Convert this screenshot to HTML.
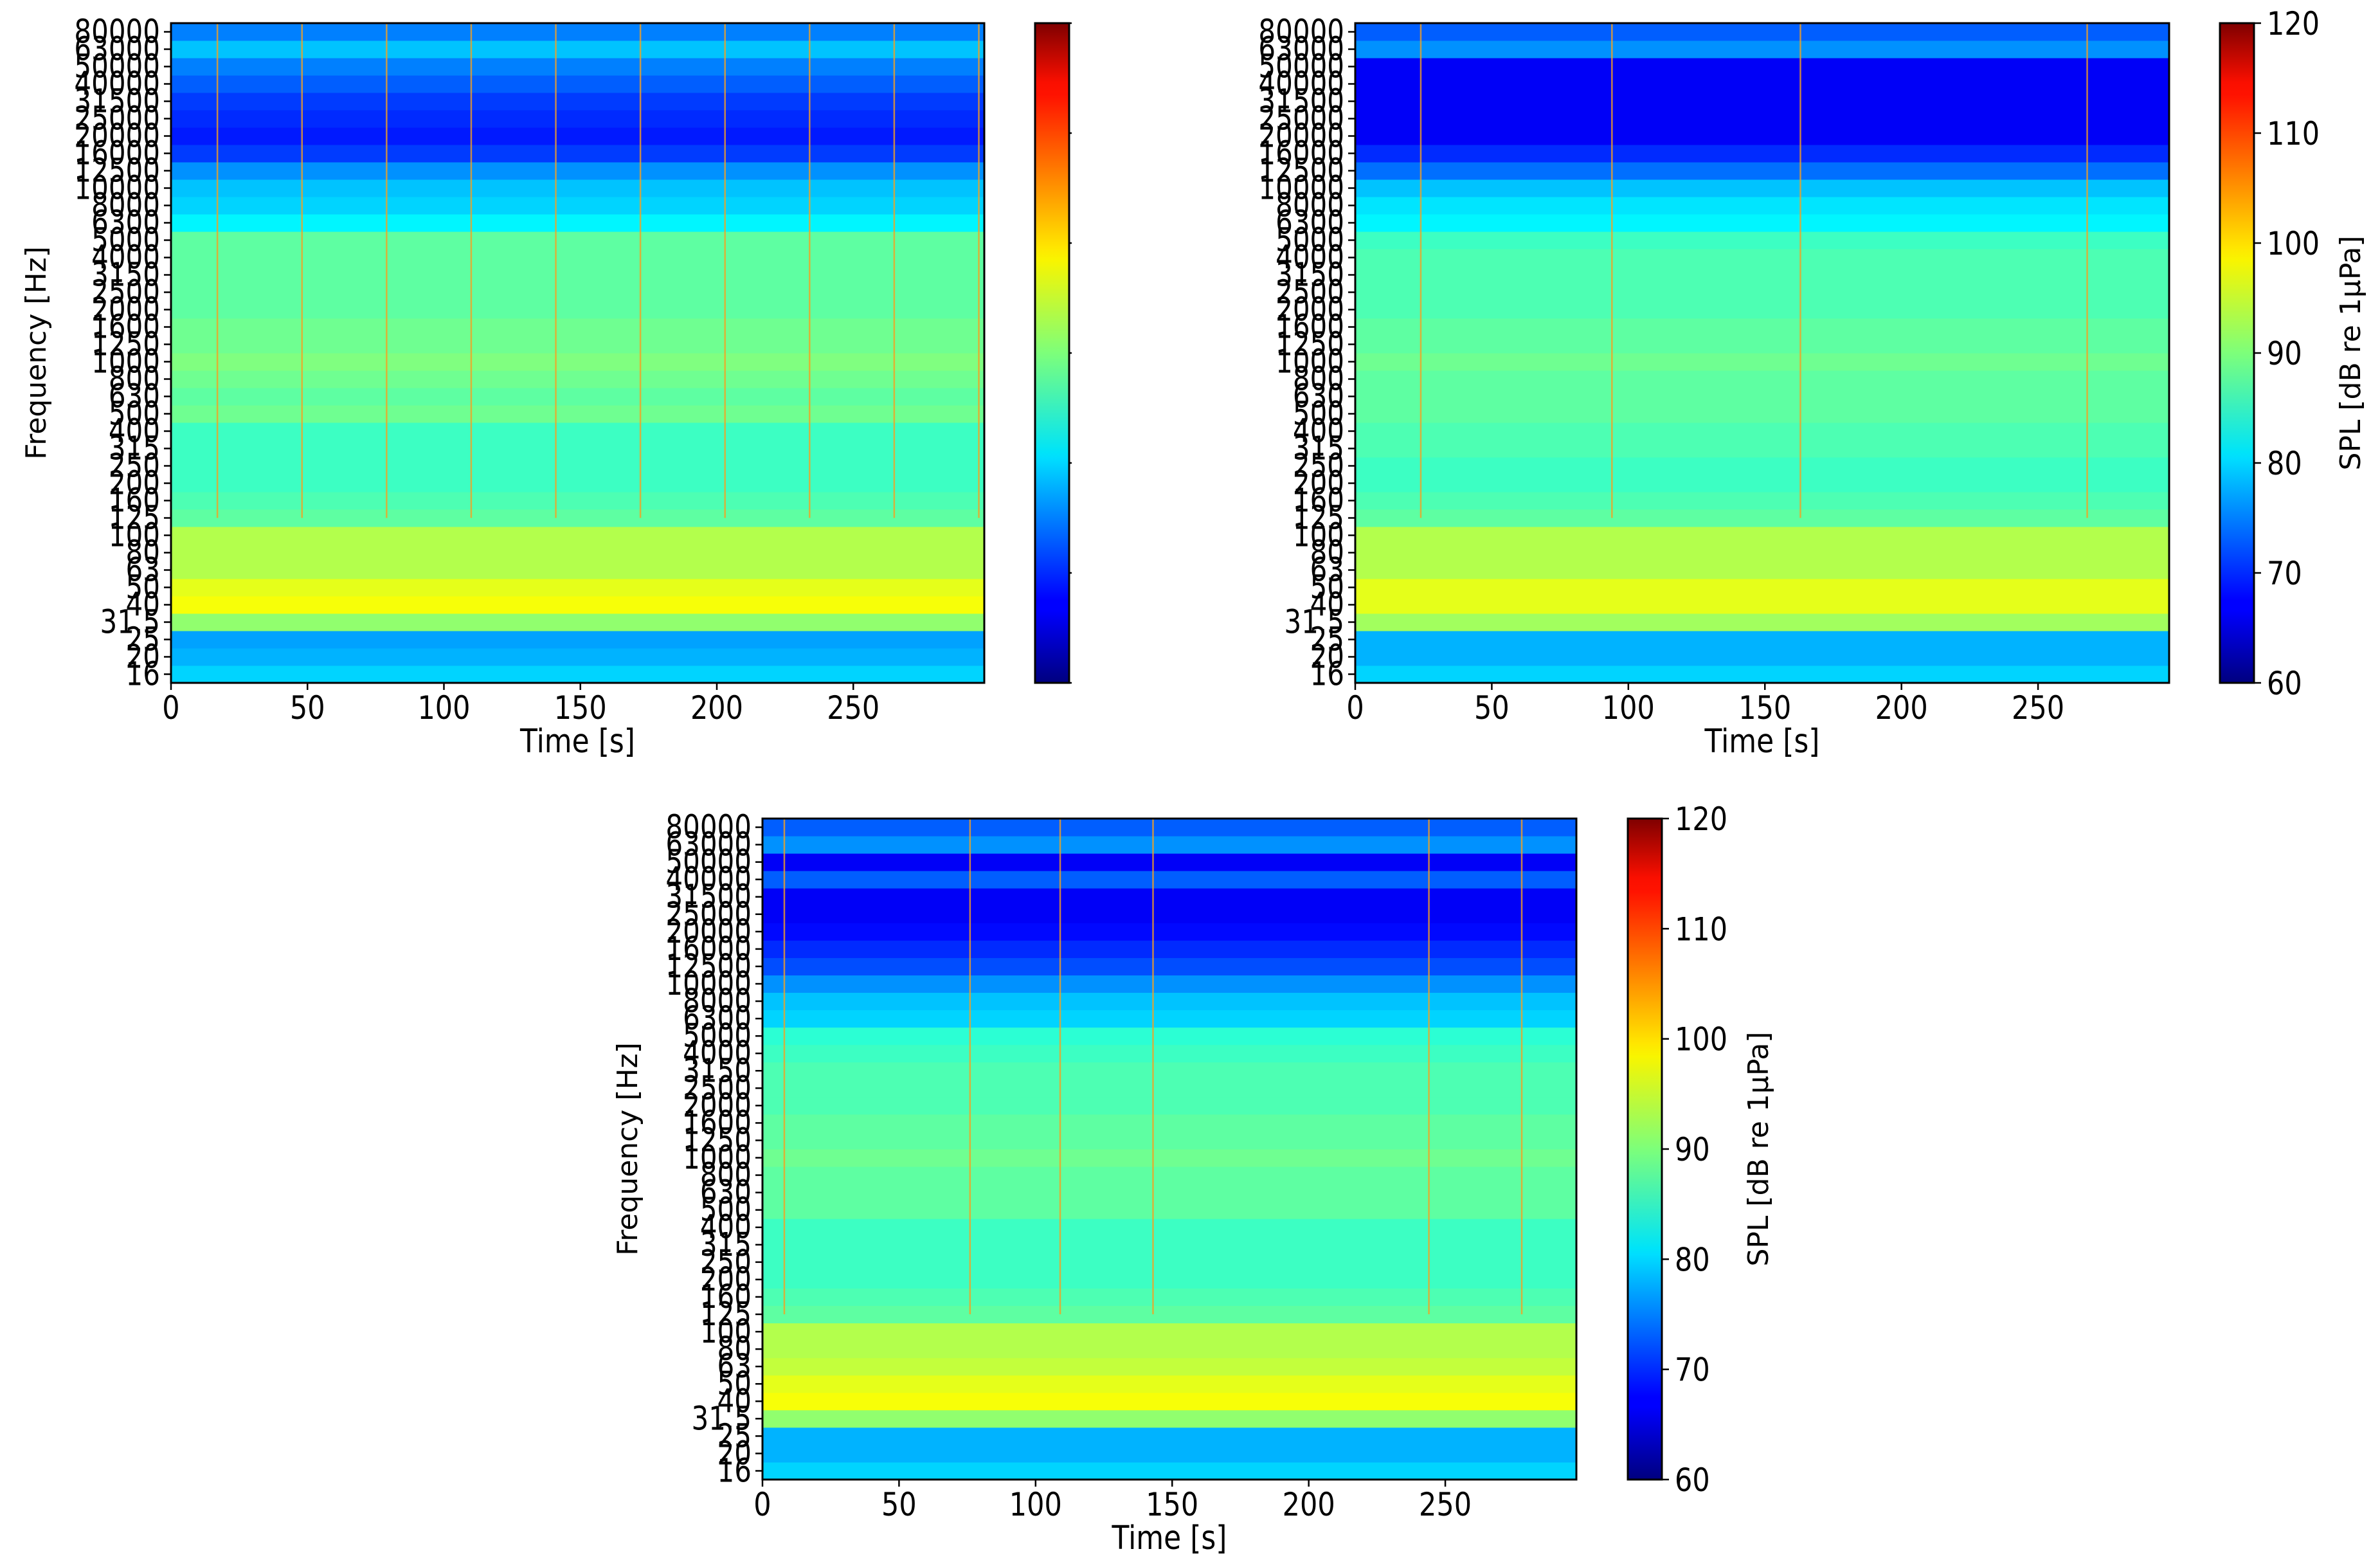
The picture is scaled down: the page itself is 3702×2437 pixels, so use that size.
<!DOCTYPE html>
<html><head><meta charset="utf-8">
<style>
html,body{margin:0;padding:0;background:#fff;}
svg{display:block;font-family:"DejaVu Sans","Liberation Sans",sans-serif;}
</style></head>
<body>
<svg id="fig" width="3702" height="2437" viewBox="0 0 3702 2437" xmlns="http://www.w3.org/2000/svg">
<defs>
<linearGradient id="jetGrad" x1="0" y1="1" x2="0" y2="0">
<stop offset="0" stop-color="#00007f"/>
<stop offset="0.11" stop-color="#0000ff"/>
<stop offset="0.125" stop-color="#0000ff"/>
<stop offset="0.34" stop-color="#00ddff"/>
<stop offset="0.35" stop-color="#00e4f8"/>
<stop offset="0.5" stop-color="#7dff7a"/>
<stop offset="0.64" stop-color="#f8f500"/>
<stop offset="0.66" stop-color="#ffe600"/>
<stop offset="0.89" stop-color="#ff1300"/>
<stop offset="0.91" stop-color="#fa0f00"/>
<stop offset="1" stop-color="#7f0000"/>
</linearGradient>
</defs>
</svg>
<script>
// ---- data ----
const bandLabels = ["16","20","25","31.5","40","50","63","80","100","125","160","200","250","315","400","500","630","800","1000","1250","1600","2000","2500","3150","4000","5000","6300","8000","10000","12500","16000","20000","25000","31500","40000","50000","63000","80000"];
const levelsA = [80,78,77,91,97,96,93,93,93,88,87,86,86,86,86,89,88,89,90,89,89,88,88,88,88,88,82,80,79,76,71,69,70,71,73,75,79,75];
const levelsB = [80,78,78,92,96,96,93,93,93,88,87,86,86,87,87,88,88,88,89,88,88,87,87,87,87,86,82,81,79,74,70,67,67,67,67,67,76,73];
const levelsC = [80,78,78,91,97,96,94,93,93,88,87,86,86,86,86,88,88,88,89,88,88,87,87,87,86,85,80,79,76,72,70,68,67,67,73,67,76,73];
const spikesA = [17,48,79,110,141,172,203,234,265,296];
const spikesB = [24,94,163,268];
const spikesC = [8,76,109,143,244,278];
const timeTicks = [0,50,100,150,200,250];
const cbTicks = [60,70,80,90,100,110,120];
const tMax = 298, vMin = 60, vMax = 120;

const NS = "http://www.w3.org/2000/svg";
const svg = document.getElementById('fig');
function mk(tag, attrs, parent){const e=document.createElementNS(NS,tag);for(const k in attrs)e.setAttribute(k,attrs[k]);(parent||svg).appendChild(e);return e;}
function jet(v){
  let x=(v-vMin)/(vMax-vMin); x=Math.max(0,Math.min(1,x));
  const f=t=>Math.max(0,Math.min(1,t));
  const r=f(Math.min(4*x-1.5,-4*x+4.5)), g=f(Math.min(4*x-0.5,-4*x+3.5)), b=f(Math.min(4*x+0.5,-4*x+2.5));
  return `rgb(${Math.round(r*255)},${Math.round(g*255)},${Math.round(b*255)})`;
}

function panel(id, px, py, pw, ph, levels, spikes, cbx, showCbLabels, showYTitle){
  const g = mk('g',{});
  
  
  const xs = t => px + t/tMax*pw;
  const n = levels.length, bh = ph/n;
  const yb = i => py + ph - (i+1)*bh;
  levels.forEach((v,i)=>{
    const r = mk('rect',{x:px,y:yb(i),width:pw,height:bh+0.5,fill:jet(v)},g);
    
    
  });
  spikes.forEach(t=>{
    const l = mk('line',{x1:xs(t),x2:xs(t),y1:py,y2:py+ph*0.75,stroke:'#f5a020','stroke-width':2.5,'stroke-opacity':0.8},g);
    
    
  });
  const frame = mk('rect',{x:px,y:py,width:pw,height:ph,fill:'none',stroke:'#000','stroke-width':3},g);
  
  
  bandLabels.forEach((lab,i)=>{
    const y = yb(i)+bh/2;
    mk('line',{x1:px-11,x2:px,y1:y,y2:y,stroke:'#000','stroke-width':2.5},g);
    const t = mk('text',{x:px-17,y:0,transform:`translate(0,${y+17}) scale(1,1.2)`,'text-anchor':'end','font-size':42,fill:'#000'},g);
    t.textContent = lab;
    
    
  });
  timeTicks.forEach(tv=>{
    const x = xs(tv);
    mk('line',{x1:x,x2:x,y1:py+ph,y2:py+ph+11,stroke:'#000','stroke-width':2.5},g);
    const t = mk('text',{x:x,y:0,transform:`translate(0,${py+ph+56}) scale(1,1.15)`,'text-anchor':'middle','font-size':43,fill:'#000'},g);
    t.textContent = tv;
    
    
  });
  const xt = mk('text',{x:px+pw/2,y:0,transform:`translate(0,${py+ph+108}) scale(1,1.15)`,'text-anchor':'middle','font-size':44,fill:'#000'},g);
  xt.textContent = 'Time [s]';
  
  
  if(showYTitle){
    const yt = mk('text',{x:0,y:0,transform:`translate(${px-195},${py+ph/2}) rotate(-90)`,'text-anchor':'middle','font-size':44,fill:'#000'},g);
    yt.textContent = 'Frequency [Hz]';
    
    
  }
  const cw = 53;
  const cb = mk('rect',{x:cbx,y:py,width:cw,height:ph,fill:'url(#jetGrad)',stroke:'#000','stroke-width':3},g);
  
  
  cbTicks.forEach(v=>{
    const y = py+ph-(v-vMin)/(vMax-vMin)*ph;
    mk('line',{x1:cbx+cw,x2:cbx+cw+(showCbLabels?11:4),y1:y,y2:y,stroke:'#000','stroke-width':2.5},g);
    if(showCbLabels){
      const t = mk('text',{x:cbx+cw+20,y:0,transform:`translate(0,${y+18}) scale(1,1.15)`,'font-size':43,fill:'#000'},g);
      t.textContent = v;
      
      
    }
  });
  if(showCbLabels){
    const ct = mk('text',{x:0,y:0,transform:`translate(${cbx+cw+165},${py+ph/2}) rotate(-90)`,'text-anchor':'middle','font-size':44,fill:'#000'},g);
    ct.textContent = 'SPL [dB re 1μPa]';
    
    
  }
}
panel('spectrogram-top-left', 266, 36, 1265, 1026, levelsA, spikesA, 1610, false, true);
panel('spectrogram-top-right', 2108, 36, 1266, 1026, levelsB, spikesB, 3453, true, false);
panel('spectrogram-bottom', 1186, 1273, 1266, 1028, levelsC, spikesC, 2532, true, true);
</script>
</body></html>
